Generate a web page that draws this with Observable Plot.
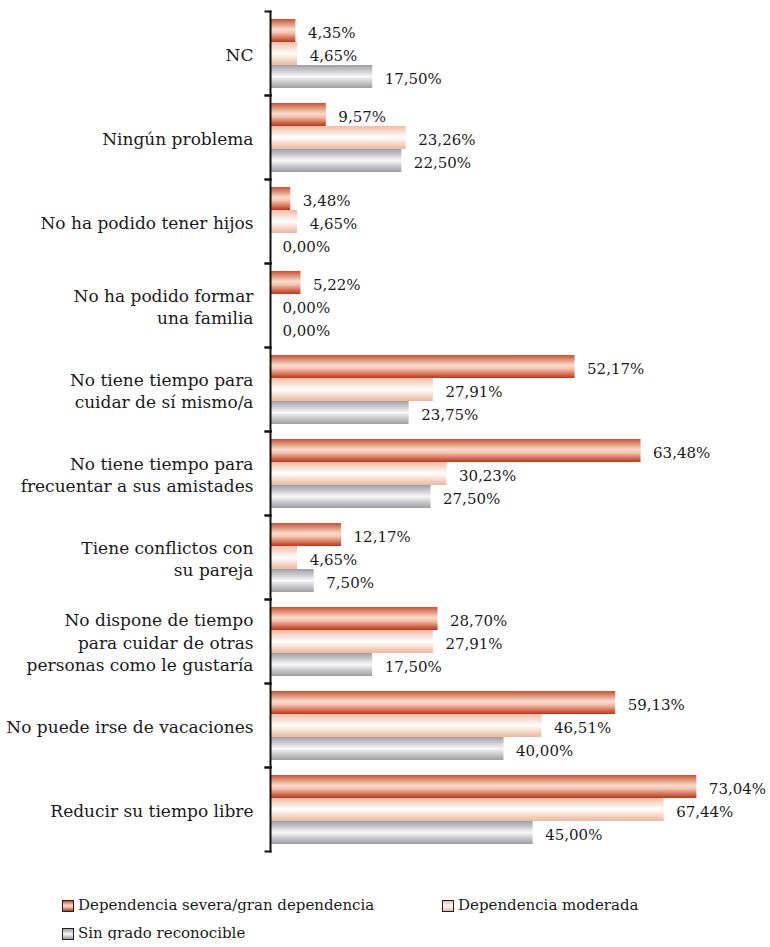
<!DOCTYPE html>
<html>
<head>
<meta charset="utf-8">
<script src="https://cdn.jsdelivr.net/npm/d3@7"></script>
<script src="https://cdn.jsdelivr.net/npm/@observablehq/plot@0.6"></script>
<style>
  html, body { margin: 0; padding: 0; background: #fff; }
  body { width: 770px; font-family: "DejaVu Serif", serif; color: #1a1a1a; }
  #chart svg { display: block; overflow: visible; }
  .legend { position: relative; height: 60px; font-size: 15px; }
  .item { position: absolute; display: flex; align-items: center; white-space: nowrap; line-height: 1; }
  .sw { width: 10px; height: 10px; border: 1px solid #222; margin-right: 4px; }
</style>
</head>
<body>
<div id="chart"></div>
<div class="legend" id="legend"></div>
<script>
const categories = [
  "NC",
  "Ningún problema",
  "No ha podido tener hijos",
  "No ha podido formar\nuna familia",
  "No tiene tiempo para\ncuidar de sí mismo/a",
  "No tiene tiempo para\nfrecuentar a sus amistades",
  "Tiene conflictos con\nsu pareja",
  "No dispone de tiempo\npara cuidar de otras\npersonas como le gustaría",
  "No puede irse de vacaciones",
  "Reducir su tiempo libre"
];
const seriesNames = ["Dependencia severa/gran dependencia", "Dependencia moderada", "Sin grado reconocible"];
const severa   = [4.35, 9.57, 3.48, 5.22, 52.17, 63.48, 12.17, 28.70, 59.13, 73.04];
const moderada = [4.65, 23.26, 4.65, 0.00, 27.91, 30.23, 4.65, 27.91, 46.51, 67.44];
const sinGrado = [17.50, 22.50, 0.00, 0.00, 23.75, 27.50, 7.50, 17.50, 40.00, 45.00];

const gradIds = ["g-severa", "g-moderada", "g-sin"];
const gradStops = [
  [[0, "#cc5030"], [0.45, "#f9dccd"], [0.6, "#f2c2ad"], [1, "#bd3516"]],
  [[0, "#f0bca4"], [0.5, "#ffffff"], [1, "#edb59b"]],
  [[0, "#9d9da3"], [0.5, "#f7f7f9"], [1, "#9c9ca2"]]
];

const seriesValues = [severa, moderada, sinGrado];
const data = [];
categories.forEach((c, i) => {
  seriesNames.forEach((s, k) => {
    data.push({category: c, series: s, value: seriesValues[k][i]});
  });
});

const W = 770, ML = 270, MR = 33;
const FONT = "DejaVu Serif";
const fmt = v => v.toFixed(2).replace(".", ",") + "%";

const plot = Plot.plot({
  width: W,
  height: 880,
  marginLeft: ML,
  marginRight: MR,
  marginTop: 11,
  marginBottom: 29,
  style: {fontFamily: FONT, color: "#1a1a1a", background: "transparent"},
  x: {domain: [0, 80], axis: null},
  y: {domain: seriesNames, axis: null, paddingInner: 0, paddingOuter: 0.3},
  fy: {domain: categories, axis: null, padding: 0},
  marks: [
    Plot.barX(data, {x: "value", y: "series", fy: "category", fill: d => `url(#${gradIds[seriesNames.indexOf(d.series)]})`}),
    Plot.text(data, {x: "value", y: "series", fy: "category", text: d => fmt(d.value), textAnchor: "start", dx: 12, dy: 2, fontSize: 15, fill: "#1a1a1a"}),
    Plot.text(categories, {fy: d => d, text: d => d, frameAnchor: "left", textAnchor: "end", dx: -17, fontSize: 17, lineHeight: 1.3, fill: "#1a1a1a"}),
    Plot.frame({anchor: "left", stroke: "#111", strokeWidth: 2}),
    Plot.frame({anchor: "top", stroke: "#111", strokeWidth: 2, insetLeft: -5, insetRight: W - ML - MR}),
    Plot.frame({anchor: "bottom", stroke: "#111", strokeWidth: 2, insetLeft: -5, insetRight: W - ML - MR})
  ]
});

const svg = d3.select(plot.tagName.toLowerCase() === "svg" ? plot : plot.querySelector("svg"));
const defs = svg.insert("defs", ":first-child");
gradIds.forEach((id, k) => {
  const g = defs.append("linearGradient").attr("id", id).attr("x1", 0).attr("y1", 0).attr("x2", 0).attr("y2", 1);
  gradStops[k].forEach(([o, c]) => g.append("stop").attr("offset", o).attr("stop-color", c));
});
document.getElementById("chart").appendChild(plot);

// Legend
const legendPos = [[62, 18], [442, 18], [62, 46]];
const legend = d3.select("#legend");
seriesNames.forEach((s, k) => {
  const it = legend.append("div").attr("class", "item")
    .style("left", legendPos[k][0] + "px").style("top", legendPos[k][1] + "px");
  const css = "linear-gradient(to bottom, " + gradStops[k].map(([o, c]) => `${c} ${o * 100}%`).join(", ") + ")";
  it.append("div").attr("class", "sw").style("background", css);
  it.append("span").text(s);
});
</script>
</body>
</html>
